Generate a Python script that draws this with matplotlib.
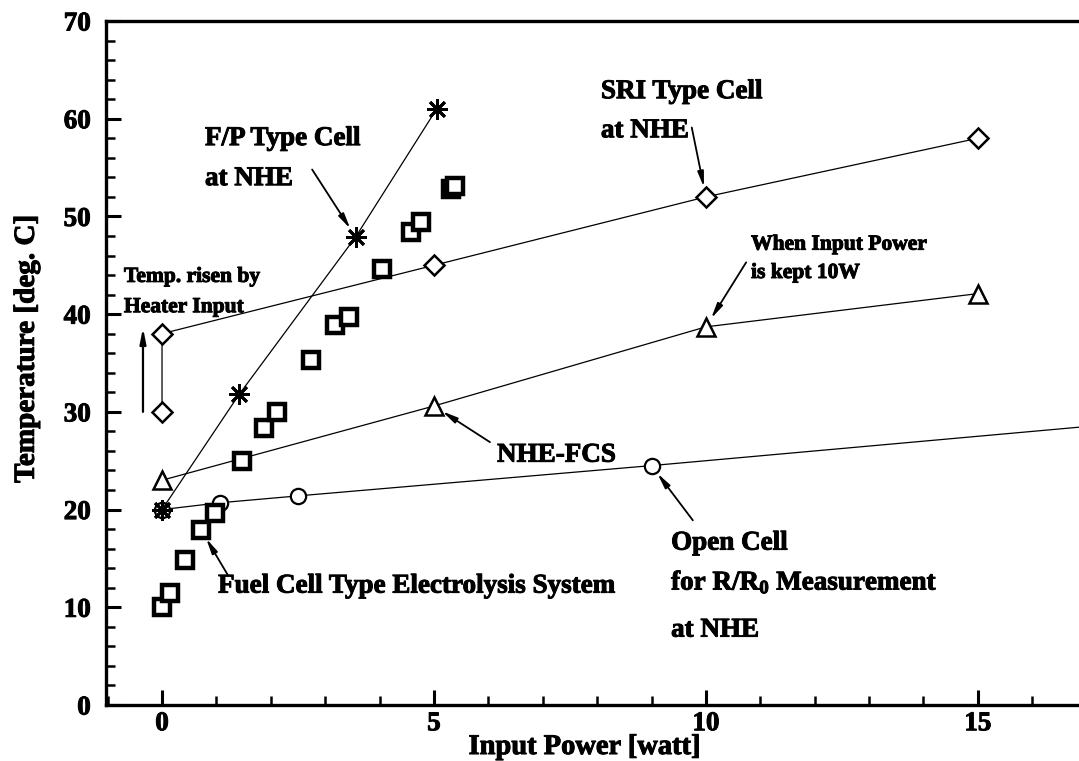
import numpy as np
import matplotlib.pyplot as plt
import matplotlib.patheffects as pe
from matplotlib.ticker import MultipleLocator

plt.rcParams['font.family'] = 'Liberation Serif'
plt.rcParams['font.weight'] = 'bold'
plt.rcParams['mathtext.fontset'] = 'custom'
plt.rcParams['mathtext.rm'] = 'Liberation Serif:bold'
plt.rcParams['mathtext.it'] = 'Liberation Serif:bold'
plt.rcParams['mathtext.bf'] = 'Liberation Serif:bold'

# SRI type cell at NHE (first two points: heater-only rise at 0 W)
sri_x = [0, 0, 5, 10, 15]
sri_y = [30, 38, 45, 52, 58]

# NHE-FCS, input power kept 10 W
fcs_x = [0, 5, 10, 15]
fcs_y = [23, 30.6, 38.7, 42.1]

# open cell for R/R0 measurement
open_x = [0, 1.07, 2.5, 9, 20]
open_y = [20, 20.7, 21.4, 24.5, 30.0]

# F/P type cell at NHE
fp_x = [0, 1.42, 3.56, 5.05]
fp_y = [20, 31.8, 47.9, 61.0]

# fuel cell type electrolysis system
fuel_x = [0.0, 0.14, 0.42, 0.72, 0.98, 1.47, 1.88, 2.12, 2.74, 3.18, 3.44,
          4.05, 4.58, 4.77, 5.32, 5.38]
fuel_y = [10.0, 11.5, 14.8, 17.9, 19.7, 25.0, 28.3, 30.0, 35.3, 38.9, 39.7,
          44.6, 48.4, 49.4, 52.8, 53.1]

fig = plt.figure(figsize=(10.79, 7.61), dpi=100)
ax = fig.add_axes([106 / 1079, 1 - 705 / 761, 1 - 106 / 1079, 684 / 761])

lw = 0.9
ax.plot(sri_x, sri_y, color='k', lw=lw, marker='D', ms=10, mfc='white',
        mec='k', mew=1.8, zorder=3)
ax.plot(fcs_x, fcs_y, color='k', lw=lw, marker='^', ms=13, mfc='white',
        mec='k', mew=1.8, zorder=3)
ax.plot(open_x, open_y, color='k', lw=lw, marker='o', ms=11, mfc='white',
        mec='k', mew=1.6, zorder=3)
ax.plot(fp_x, fp_y, color='k', lw=lw, marker=(8, 2, 0), ms=15, mec='k',
        mew=2.0, zorder=4)
ax.plot(fuel_x, fuel_y, ls='none', marker='s', ms=11, mfc='white',
        mec='k', mew=3.2, zorder=3)

ax.set_xlim(-1.03, 16.86)
ax.set_ylim(0, 70)
ax.xaxis.set_major_locator(MultipleLocator(5))
ax.xaxis.set_minor_locator(MultipleLocator(1))
ax.yaxis.set_major_locator(MultipleLocator(10))
ax.yaxis.set_minor_locator(MultipleLocator(2))
ax.tick_params(which='major', direction='in', length=11, width=2.2,
               labelsize=19.5)
ax.tick_params(which='minor', direction='in', length=6.5, width=1.8)
ax.tick_params(axis='y', which='both', right=False, pad=11)
ax.tick_params(axis='x', which='both', top=False, pad=4.5)

heavy = [pe.withStroke(linewidth=0.7, foreground='k')]
for lab in ax.get_xticklabels() + ax.get_yticklabels():
    lab.set_fontweight('bold')
    lab.set_path_effects(heavy)

ax.spines['right'].set_visible(False)
for s in ['left', 'bottom', 'top']:
    ax.spines[s].set_linewidth(2.4)

ax.set_xlabel('Input Power [watt]', fontsize=20.5, fontweight='bold',
              path_effects=heavy)
ax.set_ylabel('Temperature [deg. C]', fontsize=21, fontweight='bold',
              path_effects=heavy)
ax.xaxis.set_label_coords(0.492, -0.0439)
ax.yaxis.set_label_coords(-0.068, 0.52)

big = 19.5
small = 15.5
arrow = dict(arrowstyle='-|>,head_width=0.18,head_length=0.9', color='k',
             lw=1.3, shrinkA=0, shrinkB=7)

def label(x, y, s, size=big):
    ax.text(x, y, s, fontsize=size, fontweight='bold', ha='left',
            va='baseline', path_effects=heavy)

label(0.79, 57.3, 'F/P Type Cell')
label(0.79, 53.2, 'at NHE')
ax.annotate('', xy=(fp_x[2], fp_y[2]), xytext=(2.76, 54.8), arrowprops=arrow)

label(8.07, 62.1, 'SRI Type Cell')
label(8.07, 58.1, 'at NHE')
ax.annotate('', xy=(sri_x[3], sri_y[3]), xytext=(9.74, 59.1), arrowprops=arrow)

label(-0.70, 43.3, 'Temp. risen by', small)
label(-0.70, 40.2, 'Heater Input', small)
ax.annotate('', xy=(-0.35, 38.6), xytext=(-0.35, 30.0),
            arrowprops=dict(arrowstyle='-|>,head_width=0.18,head_length=0.9',
                            color='k', lw=1.6, shrinkA=0, shrinkB=0))

label(10.83, 46.6, 'When Input Power', small)
label(10.83, 43.7, 'is kept 10W', small)
ax.annotate('', xy=(fcs_x[2], fcs_y[2]), xytext=(10.74, 45.3), arrowprops=arrow)

label(6.16, 24.9, 'NHE-FCS')
ax.annotate('', xy=(fcs_x[1], fcs_y[1]), xytext=(6.03, 26.9), arrowprops=arrow)

label(9.36, 15.9, 'Open Cell')
label(9.36, 11.8, r'for R/R$_0$ Measurement')
label(9.36, 7.0, 'at NHE')
ax.annotate('', xy=(open_x[3], open_y[3]), xytext=(9.76, 18.9), arrowprops=arrow)

label(1.03, 11.5, 'Fuel Cell Type Electrolysis System')
ax.annotate('', xy=(fuel_x[3], fuel_y[3]), xytext=(1.21, 13.3), arrowprops=arrow)

fig.savefig('out.png', dpi=100)
